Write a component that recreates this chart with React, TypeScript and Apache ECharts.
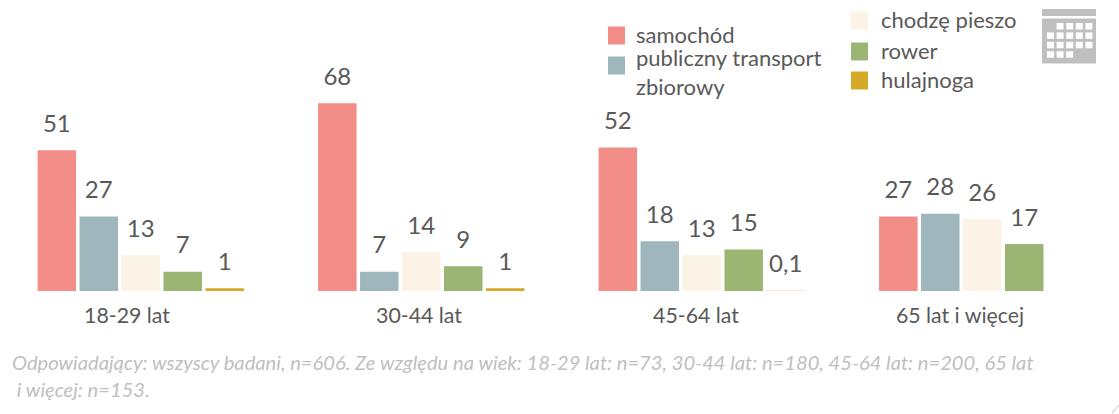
import React, { useEffect, useRef } from "react";
import * as echarts from "echarts";

const categories = ["18-29 lat", "30-44 lat", "45-64 lat", "65 lat i więcej"];
const samochod = [51, 68, 52, 27];
const transport = [27, 7, 18, 28];
const pieszo = [13, 14, 13, 26];
const rower = [7, 9, 15, 17];
const hulajnoga = [1, 1, 0.1, null];
const seriesNames = ["samochód", "publiczny transport", "chodzę pieszo", "rower", "hulajnoga"];
const seriesValues = [samochod, transport, pieszo, rower, hulajnoga];
const colors = ["#F28E87", "#9FB6BD", "#FBF4E6", "#9BB673", "#D6A828"];
const footnote = "Odpowiadający: wszyscy badani, n=606. Ze względu na wiek: 18-29 lat: n=73, 30-44 lat: n=180, 45-64 lat: n=200, 65 lat\n i więcej: n=153.";
const labelPad = [27.5, 4.5, 11.5, 44.5];
const FONT = "Lato";
const TEXT = "#595959";

const legendAt = (i: number, left: number, top: number, gap: number, fmt: (n: string) => string) => {
  const base = { fontFamily: FONT, fontSize: 22, color: TEXT };
  return {
    show: true,
    data: [seriesNames[i]],
    left,
    top,
    padding: 0,
    itemWidth: 17,
    itemHeight: 18,
    itemStyle: { borderWidth: 0 },
    icon: "rect",
    selectedMode: false,
    formatter: fmt,
    textStyle: {
      ...base,
      padding: [0, 0, 0, gap],
      rich: {
        a: { ...base, lineHeight: 26, padding: [0, 0, 3, 0] },
        b: { ...base, lineHeight: 41, padding: [12, 0, 0, 0] },
        c: { ...base, lineHeight: 29 },
      },
    },
  };
};

const single = (n: string) => `{a|${n}}`;
const wrapped = (n: string) => `{b|${n}}\n{c|zbiorowy}`;

const calendarCells: number[][] = [
  [1, 0], [2, 0], [3, 0], [4, 0],
  [0, 1], [1, 1], [2, 1], [3, 1], [4, 1],
  [0, 2], [1, 2], [2, 2], [3, 2], [4, 2],
  [0, 3], [1, 3], [2, 3],
];

export default function App() {
  const ref = useRef<HTMLDivElement>(null);
  useEffect(() => {
    const chart = echarts.init(ref.current!, undefined, { renderer: "svg" });
    chart.setOption({
      animation: false,
      backgroundColor: "#fff",
      title: {
        text: footnote,
        left: 12,
        top: 348,
        padding: 0,
        textStyle: { fontFamily: FONT, fontStyle: "italic", fontWeight: "normal", fontSize: 20.15, color: "#BFBFBF", lineHeight: 27 },
      },
      legend: [
        legendAt(0, 608, 23, 6, single),
        legendAt(1, 608, 34, 6, wrapped),
        legendAt(2, 851, 8, 8, single),
        legendAt(3, 851, 39, 8, single),
        legendAt(4, 851, 68, 8, single),
      ],
      grid: { left: 0.5, top: 15, width: 1122, height: 276, outerBoundsMode: "none" },
      xAxis: {
        type: "category",
        data: categories,
        axisLine: { show: false },
        axisTick: { show: false },
        axisLabel: {
          margin: 13,
          formatter: (v: string) => `{c${categories.indexOf(v)}|${v}}`,
          rich: Object.fromEntries(
            labelPad.map((p, i) => [
              `c${i}`,
              { fontFamily: FONT, fontSize: 21.3, color: TEXT, padding: [0, p, 0, 0] },
            ])
          ),
        },
      },
      yAxis: { type: "value", min: 0, max: 100, show: false, splitLine: { show: false } },
      series: seriesNames.map((name, i) => ({
        type: "bar",
        name,
        data: seriesValues[i],
        barWidth: 38.5,
        barGap: "9%",
        itemStyle: { color: colors[i] },
        label: {
          show: true,
          position: "top",
          distance: 16,
          fontFamily: FONT,
          fontSize: 24,
          color: TEXT,
          formatter: (p: any) => String(p.value).replace(".", ","),
        },
      })),
      graphic: [
        {
          type: "group",
          left: 1042,
          top: 9,
          children: [
            { type: "rect", shape: { x: 0, y: 0, width: 54, height: 7 }, style: { fill: "#BFBFBF" } },
            { type: "rect", shape: { x: 0, y: 9.5, width: 54, height: 45 }, style: { fill: "#BFBFBF" } },
            ...calendarCells.map(([c, r]) => ({
              type: "rect",
              shape: { x: 5 + c * 9.6, y: 14 + r * 9.4, width: 7, height: 6.5 },
              style: { fill: "#fff" },
            })),
          ],
        },
        { type: "line", shape: { x1: 1112, y1: 413, x2: 1119, y2: 405 }, style: { stroke: "#BFBFBF", lineWidth: 1 } },
      ],
    });
    return () => chart.dispose();
  }, []);
  return <div ref={ref} style={{ position: "absolute", left: 0, top: 0, width: 1119, height: 414 }} />;
}
